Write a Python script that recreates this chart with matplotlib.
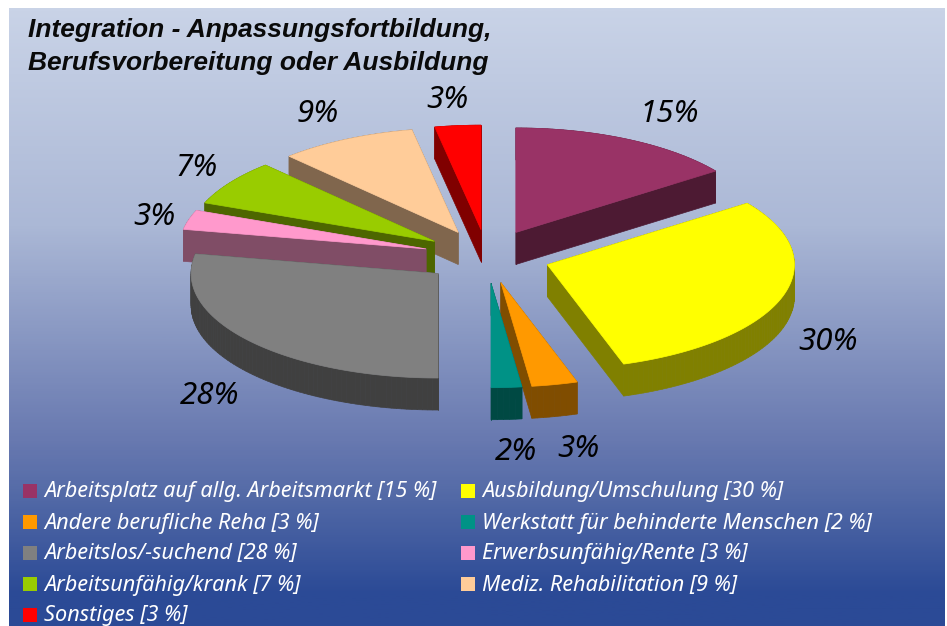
import numpy as np
import matplotlib
matplotlib.use("Agg")
import matplotlib.pyplot as plt
from matplotlib.colors import LinearSegmentedColormap, to_rgb
from matplotlib.patches import Polygon, Rectangle

# chart values, clockwise from 12 o'clock
legend_names = ["Arbeitsplatz auf allg. Arbeitsmarkt", "Ausbildung/Umschulung",
                "Andere berufliche Reha", "Werkstatt für behinderte Menschen",
                "Arbeitslos/-suchend", "Erwerbsunfähig/Rente",
                "Arbeitsunfähig/krank", "Mediz. Rehabilitation", "Sonstiges"]
values = [15, 30, 3, 2, 28, 3, 7, 9, 3]
colors = ["#993366", "#FFFF00", "#FF9900", "#009286", "#808080",
          "#FF99CC", "#99CC00", "#FFCC99", "#FF0000"]
title_lines = ["Integration - Anpassungsfortbildung,", "Berufsvorbereitung oder Ausbildung"]

# where the pie sits, in pixels
CX, CY = 487, 256.4
RX, RY = 247, 104.5
DEPTH = 32
EXPLODE = 0.257
# slices are painted back to front
draw_order = [8, 7, 6, 5, 4, 0, 1, 2, 3]
label_pos = [(669, 111), (828, 339), (578, 446), (516, 449), (210, 393),
             (154, 214), (197, 165), (318, 111), (447, 97)]

FONT = "Noto Sans"

fig = plt.figure(figsize=(9.47, 6.26), dpi=100)
ax = fig.add_axes([0, 0, 1, 1])
ax.set_xlim(0, 947)
ax.set_ylim(626, 0)
ax.axis("off")

# background, a plain vertical gradient
cmap = LinearSegmentedColormap.from_list("bg", [(0, "#C9D3E7"), (0.35, "#ABB8D6"), (0.7, "#6879B0"),
                                                (0.78, "#566CA8"), (0.95, "#2B4A96"), (1, "#2B4A96")])
yy = np.linspace(0, 1, 300).reshape(-1, 1)
ax.imshow(yy, cmap=cmap, vmin=0, vmax=1, aspect="auto", extent=(9, 945, 626, 8), zorder=0)
ax.set_xlim(0, 947)
ax.set_ylim(626, 0)

# pie
edges = np.cumsum([0] + values) * 3.6
for i in draw_order:
    a0, a1 = np.radians(edges[i]), np.radians(edges[i + 1])
    mid = (a0 + a1) / 2
    ox = CX + EXPLODE * RX * np.sin(mid)
    oy = CY - EXPLODE * RY * np.cos(mid)
    t = np.linspace(a0, a1, max(int(values[i] * 3), 4))
    top = np.column_stack([np.r_[ox, ox + RX * np.sin(t)], np.r_[oy, oy - RY * np.cos(t)]])
    dark = tuple(c * 0.5 for c in to_rgb(colors[i]))
    # extrude: one quad per outline edge, all in the same dark colour
    n = len(top)
    for k in range(n):
        p, q = top[k], top[(k + 1) % n]
        quad = [p, q, q + [0, DEPTH], p + [0, DEPTH]]
        ax.add_patch(Polygon(quad, closed=True, fc=dark, ec=dark, lw=0.5, zorder=2))
    ax.add_patch(Polygon(top, closed=True, fc=colors[i], ec=colors[i], lw=0.5, zorder=2))

# percent labels
for v, (x, y) in zip(values, label_pos):
    ax.text(x, y + 3, "%d%%" % v, fontsize=22.5, style="italic", family=FONT, color="black",
            ha="center", va="center", zorder=3)

# title
for line, y in zip(title_lines, [30, 63]):
    ax.text(28, y, line, fontsize=19, style="italic", weight="bold", family="Liberation Sans",
            color="#0A0A0A", ha="left", va="center", zorder=3)

# legend, two columns filled row by row
for i, name in enumerate(legend_names):
    col, row = i % 2, i // 2
    x = 23 + col * 438
    y = 491 + row * 31
    ax.add_patch(Rectangle((x, y - 7), 14, 14, fc=colors[i], ec="none", zorder=3))
    ax.text(x + 21, y + 1, "%s [%d %%]" % (name, values[i]), fontsize=15.6, style="italic", family=FONT,
            color="white", ha="left", va="center", zorder=3)

fig.savefig("out.png", dpi=100)
